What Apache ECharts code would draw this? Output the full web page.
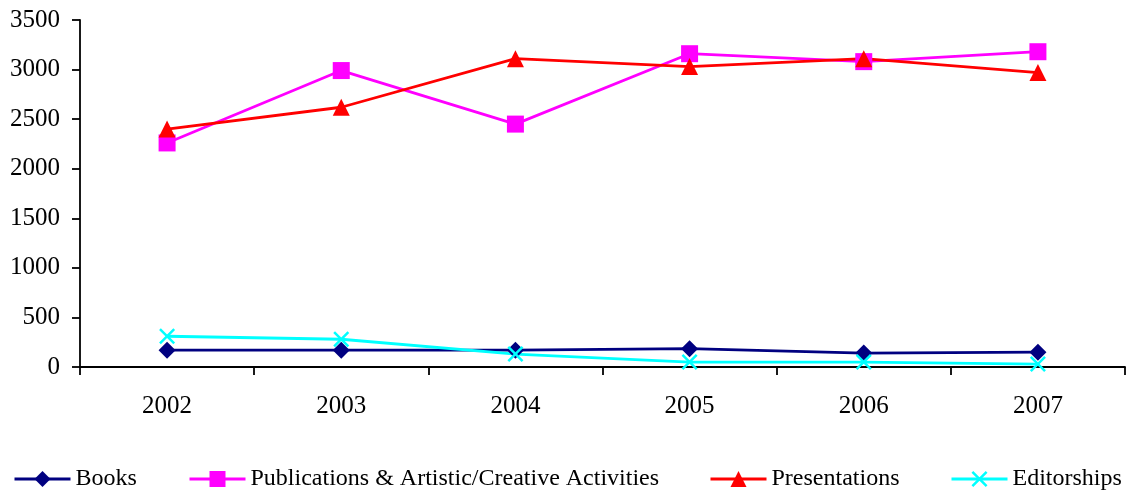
<!DOCTYPE html>
<html><head><meta charset="utf-8">
<script src="https://cdn.jsdelivr.net/npm/echarts@6/dist/echarts.min.js"></script>
<style>html,body{margin:0;padding:0;background:#fff}#c{width:1128px;height:494px}</style>
</head><body><div id="c"></div>
<script>
const categories = ['2002','2003','2004','2005','2006','2007'];
const books = [170, 170, 170, 185, 140, 150];
const publications = [2260, 2990, 2450, 3160, 3080, 3180];
const presentations = [2400, 2620, 3110, 3030, 3110, 2970];
const editorships = [310, 280, 130, 50, 50, 30];
const seriesNames = ['Books','Publications & Artistic/Creative Activities','Presentations','Editorships'];

const xSym = 'path://M0,1.1L1.1,0L5,3.9L8.9,0L10,1.1L6.1,5L10,8.9L8.9,10L5,6.1L1.1,10L0,8.9L3.9,5Z';
const font = 'Liberation Serif, Times New Roman, serif';
const chart = echarts.init(document.getElementById('c'), null, {renderer:'canvas'});
function mk(name, data, color, symbol, size){
  return {name, type:'line', data, symbol, symbolSize:size, showSymbol:true,
    lineStyle:{color, width:2.8}, itemStyle:{color}, animation:false, z: 2};
}
const legendPos = [13, 188, 709, 950];
chart.setOption({
  animation:false,
  textStyle:{fontFamily:font},
  grid:{left:80, right:3, top:20, bottom:127, containLabel:false},
  xAxis:{type:'category', data:categories, boundaryGap:true,
    axisLine:{lineStyle:{color:'#000', width:1.8}},
    axisTick:{show:true, length:8, alignWithLabel:false, lineStyle:{color:'#000', width:1.8}},
    axisLabel:{color:'#000', fontSize:25, fontFamily:font, margin:27},
    splitLine:{show:false}},
  yAxis:{type:'value', min:0, max:3500, interval:500,
    axisLine:{show:true, lineStyle:{color:'#000', width:1.8}},
    axisTick:{show:true, length:8, lineStyle:{color:'#000', width:1.8}},
    axisLabel:{color:'#000', fontSize:25, fontFamily:font, margin:20, formatter:v=>String(v)},
    splitLine:{show:false}},
  legend: seriesNames.map((n,i)=>({data:[n], left:legendPos[i], top:467, padding:0, itemWidth:56, itemHeight:20,
    lineStyle:{width:3},
    textStyle:{fontSize:24, fontFamily:font, color:'#000'}, selectedMode:false})),
  series:[
    mk(seriesNames[0], books, '#000080', 'diamond', 17),
    mk(seriesNames[1], publications, '#FF00FF', 'rect', 17),
    mk(seriesNames[2], presentations, '#FF0000', 'triangle', 17),
    mk(seriesNames[3], editorships, '#00FFFF', xSym, 16)
  ]
});
</script></body></html>
